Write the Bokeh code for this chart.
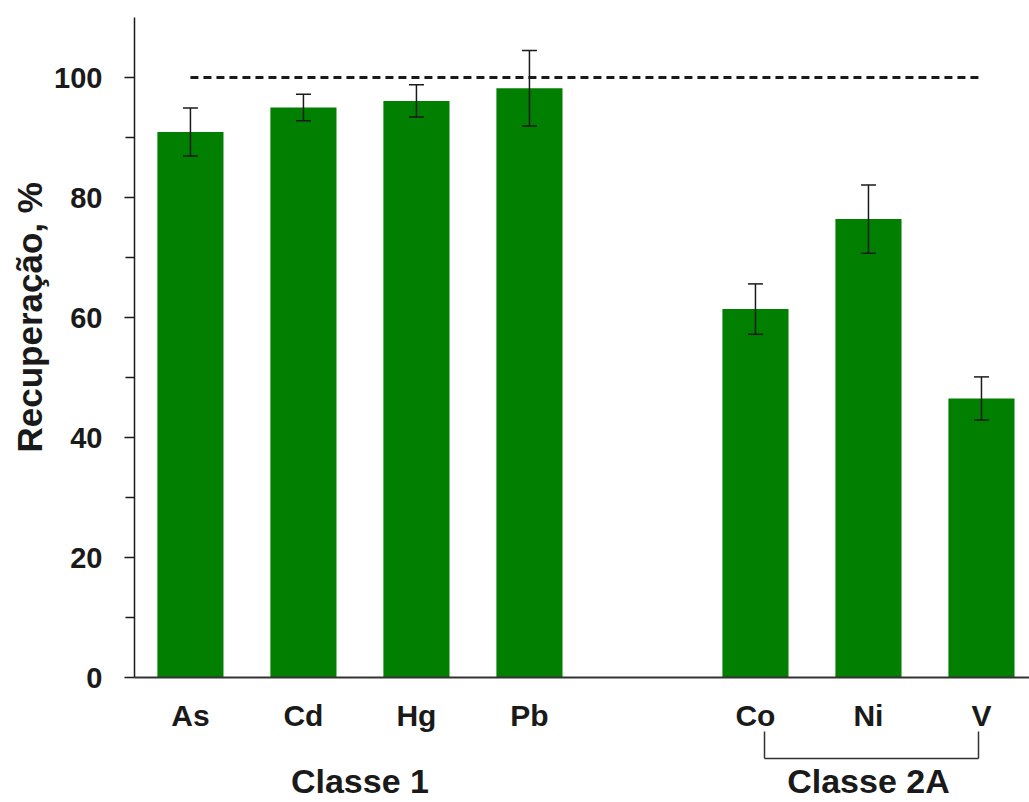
from bokeh.embed import file_html
from bokeh.models import (ColumnDataSource, FixedTicker, LinearAxis, Range1d,
                          TeeHead, Title, Whisker)
from bokeh.plotting import figure
from bokeh.resources import INLINE

# Recovery of each element (%), with its standard deviation
elements = ["As", "Cd", "Hg", "Pb", "Co", "Ni", "V"]
classes = ["Classe 1", "Classe 1", "Classe 1", "Classe 1",
           "Classe 2A", "Classe 2A", "Classe 2A"]
recovery = [90.9, 95.0, 96.1, 98.2, 61.4, 76.4, 46.5]
deviation = [4.0, 2.2, 2.7, 6.3, 4.2, 5.7, 3.6]
reference_level = 100
y_ticks = [0, 20, 40, 60, 80, 100]
y_minor_ticks = [10, 30, 50, 70, 90]

FONT = "Liberation Sans"
GREEN = "#007f00"
INK = "#1a1a1a"

# one empty slot between the two classes
xpos = []
slot = 0
for i, c in enumerate(classes):
    if i > 0 and c != classes[i - 1]:
        slot += 1
    xpos.append(slot)
    slot += 1

src = ColumnDataSource(dict(
    x=xpos,
    top=recovery,
    lower=[r - d for r, d in zip(recovery, deviation)],
    upper=[r + d for r, d in zip(recovery, deviation)],
))

p = figure(width=1029, height=802, output_backend="svg", toolbar_location=None,
           x_range=Range1d(-0.495, 7.425), y_range=Range1d(0, 110),
           min_border_left=134, min_border_right=0,
           min_border_top=17, min_border_bottom=125)
p.outline_line_color = None
p.xgrid.visible = False
p.ygrid.visible = False
p.background_fill_color = "white"
p.border_fill_color = "white"

p.vbar(x="x", top="top", width=0.585, source=src, fill_color=GREEN,
       line_color=None)

# 100 % reference line
p.line([xpos[0], xpos[-1]], [reference_level, reference_level],
       line_color=INK, line_width=3, line_dash="8 5")

# error bars
p.add_layout(Whisker(source=src, base="x", lower="lower", upper="upper",
                     level="overlay", line_color=INK, line_width=1.5,
                     upper_head=TeeHead(size=15, line_color=INK, line_width=1.5),
                     lower_head=TeeHead(size=15, line_color=INK, line_width=1.5)))

# y axis
ya = p.yaxis[0]
ya.ticker = FixedTicker(ticks=y_ticks, minor_ticks=y_minor_ticks)
ya.axis_line_color = INK
ya.axis_line_width = 1.5
ya.major_tick_line_color = INK
ya.major_tick_line_width = 1.5
ya.major_tick_in = 0
ya.major_tick_out = 10
ya.minor_tick_line_color = INK
ya.minor_tick_line_width = 1.5
ya.minor_tick_in = 0
ya.minor_tick_out = 9
ya.major_label_standoff = 22
ya.major_label_text_font = FONT
ya.major_label_text_font_style = "bold"
ya.major_label_text_font_size = "29px"
ya.major_label_text_color = INK

# y axis title
p.add_layout(Title(text="Recuperação, %", align="left", offset=225,
                   text_font=FONT, text_font_style="bold",
                   text_font_size="35px", text_color=INK, standoff=6), "left")

# x axis: element names under the bars
xa = p.xaxis[0]
xa.ticker = FixedTicker(ticks=xpos, minor_ticks=[])
xa.major_label_overrides = {x: e for x, e in zip(xpos, elements)}
xa.axis_line_color = "#333333"
xa.axis_line_width = 2
xa.major_tick_line_color = None
xa.major_tick_out = 0
xa.major_tick_in = 0
xa.major_label_standoff = 21
xa.major_label_text_font = FONT
xa.major_label_text_font_style = "bold"
xa.major_label_text_font_size = "30px"
xa.major_label_text_color = INK

# empty band between the element names and the bracket
gap = LinearAxis(ticker=FixedTicker(ticks=[xpos[0]], minor_ticks=[]),
                 axis_line_color=None, major_tick_line_color="white",
                 major_tick_out=24, major_tick_in=0, major_label_standoff=0,
                 major_label_overrides={xpos[0]: ""})
p.add_layout(gap, "below")

# bracket joining the Classe 2A elements
grp = [x for x, c in zip(xpos, classes) if c == "Classe 2A"]
left, right = grp[0] + 0.08, grp[-1] - 0.03
bracket = LinearAxis(ticker=FixedTicker(ticks=[left, right], minor_ticks=[]),
                     bounds=(left, right),
                     axis_line_color="#333333", axis_line_width=1.5,
                     major_tick_line_color="#333333", major_tick_line_width=1.5,
                     major_tick_in=27, major_tick_out=0, major_label_standoff=0,
                     major_label_overrides={left: "", right: ""})
p.add_layout(bracket, "below")

# class names, centred under their groups
names = list(dict.fromkeys(classes))
centres = []
for cname in names:
    members = [x for x, c in zip(xpos, classes) if c == cname]
    centres.append(sum(members) / len(members))
cls = LinearAxis(ticker=FixedTicker(ticks=centres, minor_ticks=[]),
                 axis_line_color=None, major_tick_line_color=None,
                 major_tick_out=0, major_tick_in=0, major_label_standoff=3,
                 major_label_overrides={c: n for c, n in zip(centres, names)},
                 major_label_text_font=FONT,
                 major_label_text_font_style="bold",
                 major_label_text_font_size="34px",
                 major_label_text_color=INK)
p.add_layout(cls, "below")

open("out.html", "w").write(file_html(p, INLINE))
